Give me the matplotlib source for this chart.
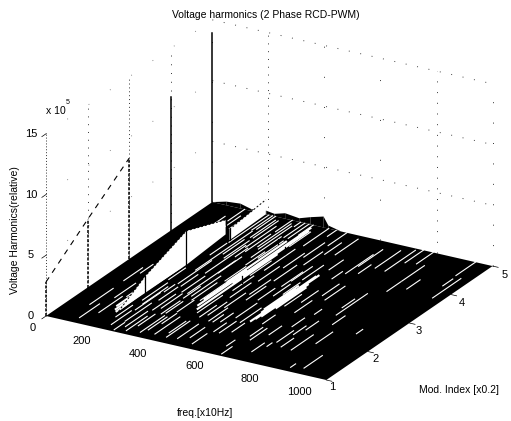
import numpy as np
import matplotlib
matplotlib.use('Agg')
import matplotlib.pyplot as plt
from mpl_toolkits.mplot3d import proj3d

plt.rcParams['font.family'] = ['Liberation Sans', 'DejaVu Sans']

W, H = 511, 421

freq_ticks = [200, 400, 600, 800, 1000]
mod_ticks = [1, 2, 3, 4, 5]
z_ticks = [0, 5, 10, 15]

# fundamental, one spike per modulation index
fund_mod = [1, 2, 3, 4, 5]
fund_z = [2.8e5, 5.6e5, 8.3e5, 11.0e5, 13.9e5]

# small harmonic spikes standing on the floor
spike_freq = [172, 176, 162, 195, 395, 340, 396]
spike_mod = [2.22, 3.19, 4.23, 4.1, 3.05, 4.3, 4.07]
spike_z = [1.3e5, 2.8e5, 1.2e5, 0.9e5, 0.6e5, 0.4e5, 0.6e5]

# ridges seen as white walls
wall1_freq = [176, 172, 176, 162]
wall1_mod = [1.56, 2.22, 3.19, 4.23]
wall1_z = [0, 1.3e5, 2.8e5, 1.2e5]
wall2_freq = [195, 191]
wall2_mod = [4.1, 5.0]
wall2_z = [0.9e5, 1.2e5]

# outline of the far edge of the surface (mod = 5)
edge_freq = [0, 50, 100, 140, 193, 222, 260, 310, 350, 397, 414, 460]
edge_z = [0, 0.3e5, 0.4e5, 0.15e5, 0.3e5, 0.2e5, 0.45e5, 0.3e5, 0.6e5, 0.9e5, 0.25e5, 0]

# bright harmonic bands on the floor
bright_freq = [150, 160, 170, 365, 378, 352, 372, 358, 568, 578, 558, 572, 563, 585]
bright_lo = [1.7, 1.6, 1.55, 2.2, 2.1, 3.0, 3.0, 2.4, 2.1, 2.3, 2.5, 2.2, 2.4, 2.6]
bright_hi = [2.6, 2.9, 3.1, 4.9, 4.0, 4.4, 4.8, 3.4, 3.65, 3.4, 3.3, 3.7, 3.2, 3.3]

# thin mesh lines showing white through the black floor
streak_freq = [96, 72, 128, 70, 99, 112, 85, 140, 120, 105, 90, 130, 150, 115,
               208, 254, 232, 316, 362, 405, 227, 221, 202, 291, 259, 266, 307, 320,
               352, 293, 406, 473, 473, 278, 240, 335, 300, 212, 345, 285, 240, 225,
               380, 360, 415,
               440, 470, 500, 430, 455, 490, 515, 530, 442, 460, 490, 520, 505, 535,
               480, 550, 545, 577,
               618, 652, 712, 684, 710, 773, 636, 642, 694, 732, 753, 788, 640, 670,
               690, 735, 610, 750, 800, 620,
               789, 894, 855, 816, 860, 816, 964, 944, 939, 830, 900,
               190, 196, 186, 215, 222, 236, 245, 262, 270, 272, 285, 298, 310, 312,
               328, 328, 340, 342, 335, 395, 392, 388, 400, 415, 420,
               200, 215, 232, 250, 250, 275, 282, 296, 315, 330, 342,
               445, 460, 432, 447, 505, 530, 515, 545, 470, 510, 560,
               600, 600, 625, 630, 660, 700, 720, 750, 760, 670]
streak_lo = [1.16, 1.57, 1.41, 2.4, 3.0, 1.9, 2.7, 2.0, 3.3, 3.9, 4.3, 4.2, 4.4, 4.6,
             1.17, 1.2, 1.34, 1.14, 1.18, 1.17, 2.65, 3.11, 4.04, 2.45, 3.09, 4.01, 4.04, 3.78,
             2.34, 3.17, 3.52, 2.63, 3.3, 1.9, 2.1, 1.9, 1.75, 1.9, 4.5, 4.6, 4.3, 4.55,
             4.3, 4.65, 4.4,
             1.2, 1.3, 1.15, 2.0, 1.85, 1.9, 2.1, 1.6, 4.79, 4.1, 3.9, 3.4, 4.3, 4.35,
             4.55, 3.0, 2.0, 3.92,
             1.06, 2.59, 2.66, 3.1, 1.53, 2.77, 3.92, 4.19, 4.24, 4.22, 4.56, 4.6, 1.6, 1.85,
             1.3, 2.0, 2.1, 2.2, 2.5, 3.7,
             1.58, 1.18, 1.12, 3.7, 3.88, 4.06, 3.8, 4.18, 4.53, 1.9, 2.4,
             1.4, 2.0, 2.7, 1.7, 2.35, 1.05, 2.6, 1.8, 2.45, 1.1, 1.3, 2.3, 1.8, 2.4,
             1.25, 2.3, 1.5, 3.0, 3.55, 1.3, 2.0, 3.3, 2.8, 1.9, 2.6,
             3.6, 4.5, 3.7, 3.6, 4.3, 3.7, 3.9, 4.1, 4.85, 4.5, 3.8,
             2.3, 2.8, 3.2, 3.7, 2.7, 2.9, 3.2, 3.5, 1.85, 1.6, 1.7,
             1.3, 2.7, 1.7, 2.9, 3.2, 2.2, 1.7, 1.6, 3.0, 4.0]
streak_hi = [1.64, 2.13, 1.97, 2.85, 3.5, 2.4, 3.0, 2.5, 3.8, 4.3, 4.7, 4.8, 4.9, 5.0,
             1.65, 1.73, 1.97, 1.72, 1.78, 1.73, 3.45, 4.47, 5.0, 3.59, 4.06, 4.74, 4.84, 4.5,
             3.55, 3.73, 4.25, 3.1, 3.84, 2.4, 2.55, 2.3, 2.2, 2.5, 5.0, 5.0, 4.9, 5.0,
             4.8, 5.0, 5.0,
             1.7, 1.65, 1.5, 2.45, 2.3, 2.2, 2.6, 2.0, 5.0, 4.6, 4.35, 3.9, 4.7, 4.9,
             5.0, 3.4, 2.5, 4.26,
             1.31, 3.0, 2.83, 3.58, 1.65, 3.52, 4.58, 4.77, 4.85, 4.95, 5.0, 5.0, 2.0, 2.15,
             1.6, 2.3, 2.4, 2.5, 2.8, 3.95,
             2.11, 1.62, 1.24, 4.04, 4.2, 4.6, 4.48, 4.42, 5.0, 2.3, 2.55,
             1.8, 2.6, 3.1, 2.3, 2.6, 1.3, 3.0, 2.35, 3.0, 1.6, 1.7, 2.7, 2.2, 3.1,
             1.7, 2.9, 1.85, 3.5, 4.0, 1.7, 2.6, 3.8, 3.3, 2.3, 3.1,
             4.0, 5.0, 4.2, 4.2, 4.9, 4.0, 4.5, 4.9, 5.0, 5.0, 4.4,
             2.8, 3.3, 3.7, 4.2, 3.1, 3.3, 3.7, 4.0, 2.1, 1.9, 2.0,
             1.5, 3.1, 2.0, 3.3, 3.6, 2.5, 2.1, 1.9, 3.3, 4.3]

# how often a dot of the scanned grid survives, as the gap between dots
wall_freq_gap = [7, 30, 40, 10, 20]
wall_mod_gap = [2, 7, 3, 8, 40]


def to_px(ax, x, y, z):
    X, Y, _ = proj3d.proj_transform(x, y, z, ax.get_proj())
    return ax.transData.transform((X, Y))


def place_axes(ax, start, end):
    # scale and shift the axes so two floor corners land on given pixels
    size = 400.0
    ax.set_position([0, 0, size / W, size / H])
    ax.apply_aspect()
    a = to_px(ax, *start[0])
    b = to_px(ax, *end[0])
    target = np.hypot(end[1][0] - start[1][0], end[1][1] - start[1][1])
    size = size * target / np.hypot(*(b - a))
    ax.set_position([0, 0, size / W, size / H])
    ax.apply_aspect()
    a = to_px(ax, *start[0])
    left = start[1][0] - a[0]
    bottom = (H - start[1][1]) - a[1]
    ax.set_position([left / W, bottom / H, size / W, size / H])
    ax.apply_aspect()


def tick_label(ax, x, y, z, text, dx, dy, **kw):
    X, Y, _ = proj3d.proj_transform(x, y, z, ax.get_proj())
    ax.annotate(text, (X, Y), xytext=(dx, -dy), textcoords='offset pixels',
                ha='center', va='center', fontsize=8, **kw)


fig = plt.figure(figsize=(W / 100, H / 100), dpi=100, facecolor='white')
ax = fig.add_axes([0, 0, 1, 1], projection='3d', computed_zorder=False)
ax.set_proj_type('ortho')
ax.view_init(elev=23.3, azim=-60)
ax.set_box_aspect((323, 332, 198))
ax.set_xlim(0, 1000)
ax.set_ylim(1, 5)
ax.set_zlim(0, 15e5)
ax.set_axis_off()
place_axes(ax, ((0, 1, 0), (46, 316)), ((1000, 5, 0), (493, 270)))

# dotted grid on the two walls, most dots lost in the scan
for z in z_ticks[1:]:
    ax.plot([0, 0], [1, 5], [z * 1e5, z * 1e5], color='#666666', lw=0.6, ls=(0, (1, 30)), zorder=0)
    ax.plot([0, 1000], [5, 5], [z * 1e5, z * 1e5], color='#444444', lw=0.7, ls=(0, (1, 11)), zorder=0)
for m, gap in zip(mod_ticks, wall_mod_gap):
    ax.plot([0, 0], [m, m], [0, 15e5], color='#333333', lw=0.7, ls=(0, (1, gap)), zorder=0)
for f, gap in zip(freq_ticks, wall_freq_gap):
    ax.plot([f, f], [5, 5], [0, 15e5], color='#333333', lw=0.7, ls=(0, (1, gap)), zorder=0)

# black floor from the dense mesh
fx, fy = np.meshgrid([0, 1000], [1, 5])
ax.plot_surface(fx, fy, np.zeros_like(fx, dtype=float), color='black', shade=False,
                linewidth=0, zorder=1)
ax.fill_between(edge_freq, [5] * len(edge_freq), 0, edge_freq, [5] * len(edge_freq), edge_z,
                mode='quad', facecolors='black', linewidth=0, shade=False, zorder=1)

for f, lo, hi in zip(streak_freq, streak_lo, streak_hi):
    ax.plot([f, f], [lo, hi], [0, 0], color='white', lw=0.8, zorder=2)
for f, lo, hi in zip(bright_freq, bright_lo, bright_hi):
    ax.plot([f, f], [lo, hi], [0, 0], color='white', lw=1.5, zorder=2)

for wf, wm, wz in [(wall1_freq, wall1_mod, wall1_z), (wall2_freq, wall2_mod, wall2_z)]:
    ax.fill_between(wf, wm, 0, wf, wm, wz, mode='quad', facecolors='white', linewidth=0,
                    shade=False, zorder=3)
    ax.plot(wf, wm, wz, color='black', lw=0.7, ls=(0, (2, 2)), zorder=4)

for f, m, z in zip(spike_freq, spike_mod, spike_z):
    ax.plot([f, f], [m, m], [0, z], color='black', lw=0.9, zorder=4)

# fundamental spikes and the dashed envelope over the first three
for m, z in zip(fund_mod, fund_z):
    ls = '-' if m in (4, 5) else (0, (2, 1))
    ax.plot([0, 0], [m, m], [0, z], color='black', lw=1.1, ls=ls, zorder=5)
ax.plot([0, 0, 0], fund_mod[:3], fund_z[:3], color='black', lw=0.8, ls=(0, (5, 5)), zorder=5)

# axis ticks
tick = dict(color='black', lw=0.5, zorder=5)
for z in z_ticks:
    ax.plot([0, 0], [1, 0.9], [z * 1e5, z * 1e5], **tick)
for m in mod_ticks:
    ax.plot([1000, 1020], [m, m], [0, 0], **tick)

for f in freq_ticks:
    tick_label(ax, f, 1, 0, str(f), -20 + (f == 1000) * (-7), 12)
tick_label(ax, 0, 1, 0, '0', -13, 12)
for m in mod_ticks:
    tick_label(ax, 1000, m, 0, str(m), 6 + (m - 1) * 1.5, 7 + (m - 1) * 0.5)
for z in z_ticks:
    tick_label(ax, 0, 1, z * 1e5, str(z), -15, 0)

label = dict(ha='center', va='center', fontsize=7.5)
fig.text(266 / W, 1 - 15 / H, 'Voltage harmonics (2 Phase RCD-PWM)', **label)
fig.text(15 / W, 1 - 230 / H, 'Voltage Harmonics(relative)', rotation=90, **label)
fig.text(205 / W, 1 - 413 / H, 'freq.[x10Hz]', **label)
fig.text(459 / W, 1 - 390 / H, 'Mod. Index [x0.2]', **label)
fig.text(56 / W, 1 - 111 / H, 'x 10', **label)
fig.text(68 / W, 1 - 102 / H, '5', ha='center', va='center', fontsize=5)

fig.savefig('out.png', dpi=100)
